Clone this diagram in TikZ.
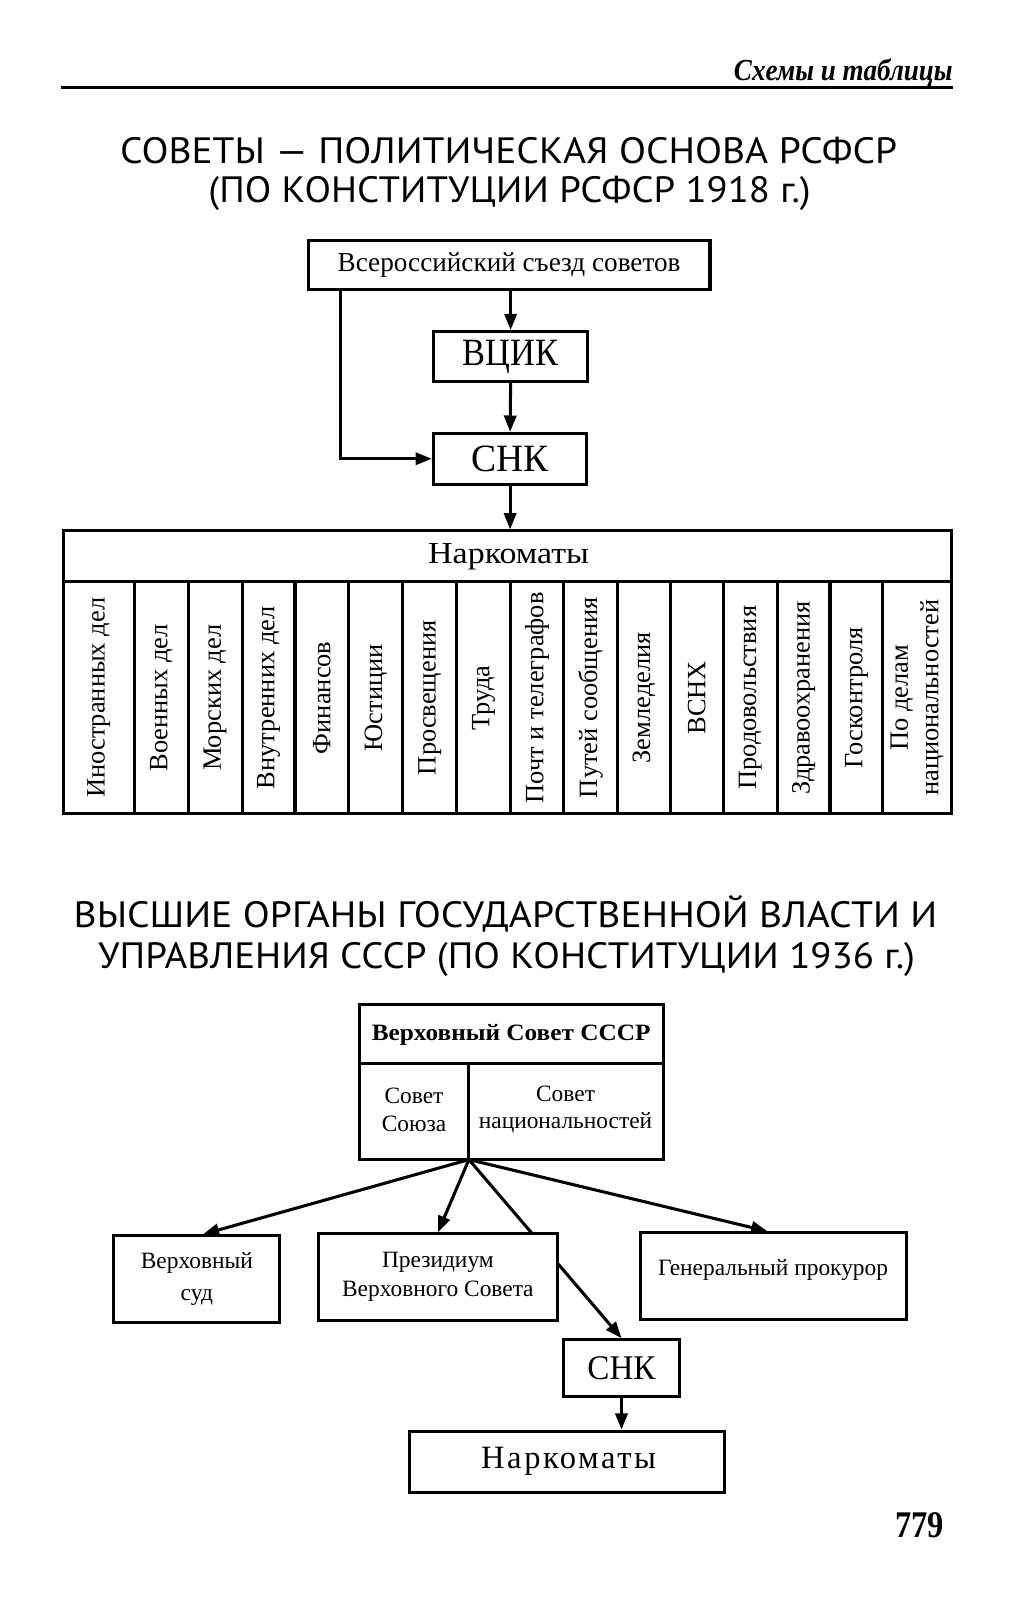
\documentclass[tikz,border=0pt]{standalone}
\usepackage{fontspec}
\usepackage{graphicx}
\setmainfont{Liberation Serif}
\newfontfamily\titlefont{PT Sans}
\usetikzlibrary{arrows.meta,fit,backgrounds}
\newcommand\fw[2]{\resizebox{#1}{\height}{#2}}
\tikzset{
  box/.style={draw, line width=1.5pt, inner sep=0pt},
  lbl/.style={inner sep=0pt, align=center},
  arr/.style={line width=1.5pt, -{Triangle[length=8pt,width=6pt]}},
  rule/.style={line width=1.5pt},
  ttl/.style={anchor=base, inner sep=0pt, font=\titlefont\fontsize{18}{20}\selectfont},
  col/.style={rotate=90, inner sep=0pt, align=center, font=\fontsize{13}{15}\selectfont},
  small/.style={align=center, inner sep=0pt, font=\fontsize{11.5}{14.5}\selectfont},
}
\begin{document}
\begin{tikzpicture}[x=0.5pt,y=-0.5pt]
\useasboundingbox (0,0) rectangle (1002,1573);
% header
\node[anchor=base east, inner sep=0pt, font=\fontsize{15}{18}\selectfont\bfseries\itshape] (hdr) at (937,79) {\fw{107.5pt}{Схемы и таблицы}};
\draw[rule] (60,86) -- (937,86);
% title 1
\node[ttl] (t1a) at (500,161) {\fw{382pt}{СОВЕТЫ — ПОЛИТИЧЕСКАЯ ОСНОВА РСФСР}};
\node[ttl] (t1b) at (501,199) {\fw{296pt}{(ПО КОНСТИТУЦИИ РСФСР 1918 г.)}};
% top diagram
\node[box, fit={(303,236)(698,285)}] (sezd) {};
\node[lbl, font=\fontsize{13.5}{16}\selectfont] (sezdt) at (sezd.center) {\fw{168.5pt}{Всероссийский съезд советов}};
\node[box, fit={(426,326)(578,375)}] (vcik) {};
\node[lbl, font=\fontsize{19}{22}\selectfont] (vcikt) at (vcik.center) {\fw{47pt}{ВЦИК}};
\node[box, fit={(426,426)(577,476)}] (snk) {};
\node[lbl, font=\fontsize{19}{22}\selectfont] (snkt) at (snk.center) {\fw{38pt}{СНК}};
\node[box, fit={(62,522)(935,800)}] (nk) {};
\node[lbl, font=\fontsize{15}{18}\selectfont] (nkt) at (500,547) {\fw{79pt}{Наркоматы}};
\draw[rule] (62,572) -- (935,572);
\foreach \x in {132,185,238,290,343,396,449,502,554,607,659,711,764,816,868}
  \draw[rule] (\x,572) -- (\x,800);
\foreach \cx/\txt [count=\i] in {97/Иностранных дел, 158.5/Военных дел, 211.5/Морских дел, 264/Внутренних дел, 316.5/Финансов, 369.5/Юстиции, 422.5/Просвещения, 475.5/Труда, 528/Почт и телеграфов, 580.5/Путей сообщения, 633/Земледелия, 685/ВСНХ, 737.5/Продовольствия, 790/Здравоохранения, 842/Госконтроля}
  \node[col] (c\i) at (\cx,686) {\txt};
\node[col] (c16) at (901.5,686) {По делам\\национальностей};
\draw[arr] (vcik.north |- sezd.south) -- (vcik.north);
\draw[arr] (vcik.south) -- (snk.north);
\draw[arr] ([xshift=16.5pt]sezd.south west) |- (snk.west);
\draw[arr] (snk.south) -- (snk.south |- nk.north);
% title 2
\node[ttl] (t2a) at (497,912) {\fw{424.5pt}{ВЫСШИЕ ОРГАНЫ ГОСУДАРСТВЕННОЙ ВЛАСТИ И}};
\node[ttl] (t2b) at (498,952) {\fw{401.5pt}{УПРАВЛЕНИЯ СССР (ПО КОНСТИТУЦИИ 1936 г.)}};
% bottom diagram
\node[box, fit={(353,988)(652,1140)}] (vs) {};
\draw[rule] (353,1046) -- (652,1046);
\draw[rule] (461,1046) -- (461,1140);
\node[lbl, font=\fontsize{11.5}{14}\selectfont\bfseries] (vst) at (502.5,1017) {\fw{137pt}{Верховный Совет СССР}};
\node[small, font=\fontsize{11.5}{13.5}\selectfont] (ss) at (407,1091) {Совет\\Союза};
\node[small, font=\fontsize{11.5}{13.5}\selectfont] (sn) at (556,1091) {Совет\\национальностей};
\coordinate (root) at (461,1140);
\node[box, fit={(112,1215)(275,1300)}] (sud) {};
\node[small, font=\fontsize{11.5}{15.5}\selectfont] (sudt) at (sud.center) {Верховный\\суд};
\node[box, fit={(313,1213)(548,1298)}, fill=white] (prez) {};
\node[small] (prezt) at (prez.center) {Президиум\\Верховного Совета};
\node[box, fit={(630,1212)(891,1297)}] (gen) {};
\node[small] (gent) at (760,1249) {Генеральный прокурор};
\node[box, fit={(554,1317)(668,1373)}] (snk2) {};
\node[lbl, font=\fontsize{17}{20}\selectfont] (snk2t) at (snk2.center) {\fw{33.5pt}{СНК}};
\node[box, fit={(403,1407)(712,1467)}] (nk2) {};
\node[lbl, font=\fontsize{16}{19}\selectfont] (nk2t) at (559,1437) {\addfontfeature{LetterSpace=8}Наркоматы};
\draw[arr] (root) -- ([xshift=3pt]sud.north);
\draw[arr] (root) -- (prez.north);
\draw[arr] (root) -- ([xshift=-3pt]gen.north);
\draw[arr] (snk2.south) -- (snk2.south |- nk2.north);
\begin{scope}[on background layer]
  \fill[white] (0,0) rectangle (1002,1573);
  \draw[arr] (root) -- (snk2.north);
\end{scope}
% page number
\node[anchor=base, inner sep=0pt, font=\fontsize{18.5}{22}\selectfont\bfseries] (pg) at (904,1512) {\fw{24pt}{779}};
\end{tikzpicture}
\end{document}
